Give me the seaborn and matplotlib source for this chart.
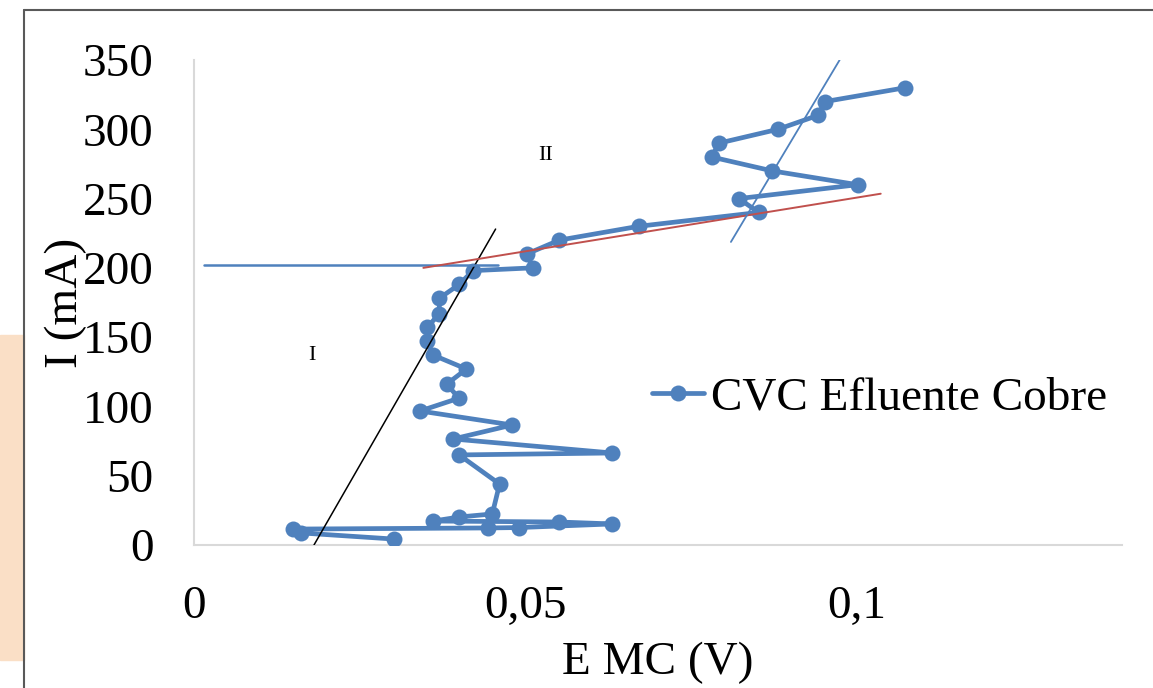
import matplotlib
matplotlib.use("Agg")
import matplotlib.pyplot as plt
import seaborn as sns
import pandas as pd
from matplotlib.lines import Line2D
from matplotlib.patches import Rectangle

# ---- data ----
e_mc = [0.0301, 0.0162, 0.0150, 0.0443, 0.0491, 0.0631, 0.0551, 0.0361, 0.0400, 0.0450,
        0.0461, 0.0400, 0.0631, 0.0391, 0.0480, 0.0341, 0.0400, 0.0381, 0.0411, 0.0361,
        0.0352, 0.0352, 0.0370, 0.0370, 0.0400, 0.0421, 0.0511, 0.0502, 0.0551, 0.0671,
        0.0852, 0.0822, 0.1001, 0.0872, 0.0781, 0.0792, 0.0881, 0.0941, 0.0952, 0.1073]
i_ma = [4.3, 8.7, 11.5, 12.3, 12.6, 15.2, 16.6, 17.3, 20.2, 22.4,
        44.0, 65.0, 66.4, 76.5, 86.6, 96.7, 106.0, 116.0, 127.0, 137.0,
        147.0, 157.0, 167.0, 178.0, 188.0, 198.0, 200.0, 210.0, 220.0, 230.0,
        240.0, 250.0, 260.0, 270.0, 280.0, 290.0, 300.0, 310.0, 320.0, 330.0]
series_name = "CVC Efluente Cobre"

x_ticks = [0, 0.05, 0.1]
x_tick_labels = ["0", "0,05", "0,1"]
y_ticks = [0, 50, 100, 150, 200, 250, 300, 350]

# hand-drawn guide lines (data coordinates)
line_I_x, line_I_y = [0.0181, 0.0455], [0, 228]
line_h_x, line_h_y = [0.0015, 0.0459], [202, 202]
line_red_x, line_red_y = [0.0346, 0.1036], [200, 253.5]
line_steep_x, line_steep_y = [0.0810, 0.0974], [218.7, 350]
region_labels = [("I", 0.0178, 137), ("II", 0.053, 281)]

# ---- figure ----
sns.set_theme(style="white")
plt.rcParams["font.family"] = ["Liberation Serif", "DejaVu Serif"]
plt.rcParams["text.color"] = "black"
plt.rcParams["axes.labelcolor"] = "black"
plt.rcParams["xtick.color"] = "black"
plt.rcParams["ytick.color"] = "black"

W, H = 1153, 688
fig = plt.figure(figsize=(W / 100, H / 100), dpi=100)
fig.patch.set_facecolor("white")
ax = fig.add_axes([194 / W, 1 - 545 / H, (1122 - 194) / W, (545 - 60) / H])

blue = "#4f81bd"
df = pd.DataFrame({"E": e_mc, "I": i_ma})
sns.lineplot(data=df, x="E", y="I", sort=False, estimator=None, ax=ax,
             color=blue, marker="o", markersize=11.5, markeredgewidth=0,
             linewidth=3.4, label=series_name, zorder=3)

ax.plot(line_I_x, line_I_y, color="black", linewidth=1.1, zorder=4)
ax.plot(line_h_x, line_h_y, color=blue, linewidth=1.8, zorder=4)
ax.plot(line_red_x, line_red_y, color="#c0504d", linewidth=1.4, zorder=4)
ax.plot(line_steep_x, line_steep_y, color=blue, linewidth=1.3, zorder=4)
for txt, tx, ty in region_labels:
    ax.text(tx, ty, txt, fontsize=16, ha="center", va="center", color="black")

ax.set_xlim(0, 0.14)
ax.set_ylim(0, 350)
ax.set_xticks(x_ticks)
ax.set_xticklabels(x_tick_labels)
ax.set_yticks(y_ticks)
ax.tick_params(axis="both", length=0, labelsize=34, pad=29, colors="black")
ax.set_xlabel("E MC (V)", fontsize=34, labelpad=10, color="black")
ax.set_ylabel("I (mA)", fontsize=34, labelpad=-3, color="black")

for s in ["top", "right"]:
    ax.spines[s].set_visible(False)
for s in ["left", "bottom"]:
    ax.spines[s].set_color("#d9d9d9")
    ax.spines[s].set_linewidth(1.5)
ax.grid(False)

leg = ax.legend(loc="center left", bbox_to_anchor=(652 / W, 1 - 398 / H),
                bbox_transform=fig.transFigure, frameon=False, fontsize=34,
                handlelength=1.1, handletextpad=0.15, borderpad=0, borderaxespad=0)
for t in leg.get_texts():
    t.set_color("black")

# page decorations: frame border and peach patch on the left
fig.add_artist(Rectangle((0, 1 - 660 / H), 24 / W, (660 - 335) / H,
                         transform=fig.transFigure, color="#fadfc6", zorder=0))
fig.add_artist(Line2D([24 / W, 24 / W], [0, 1 - 10 / H], transform=fig.transFigure,
                      color="#595959", linewidth=1.5))
fig.add_artist(Line2D([24 / W, 1], [1 - 10 / H, 1 - 10 / H], transform=fig.transFigure,
                      color="#595959", linewidth=1.5))

fig.savefig("out.png", dpi=100)
